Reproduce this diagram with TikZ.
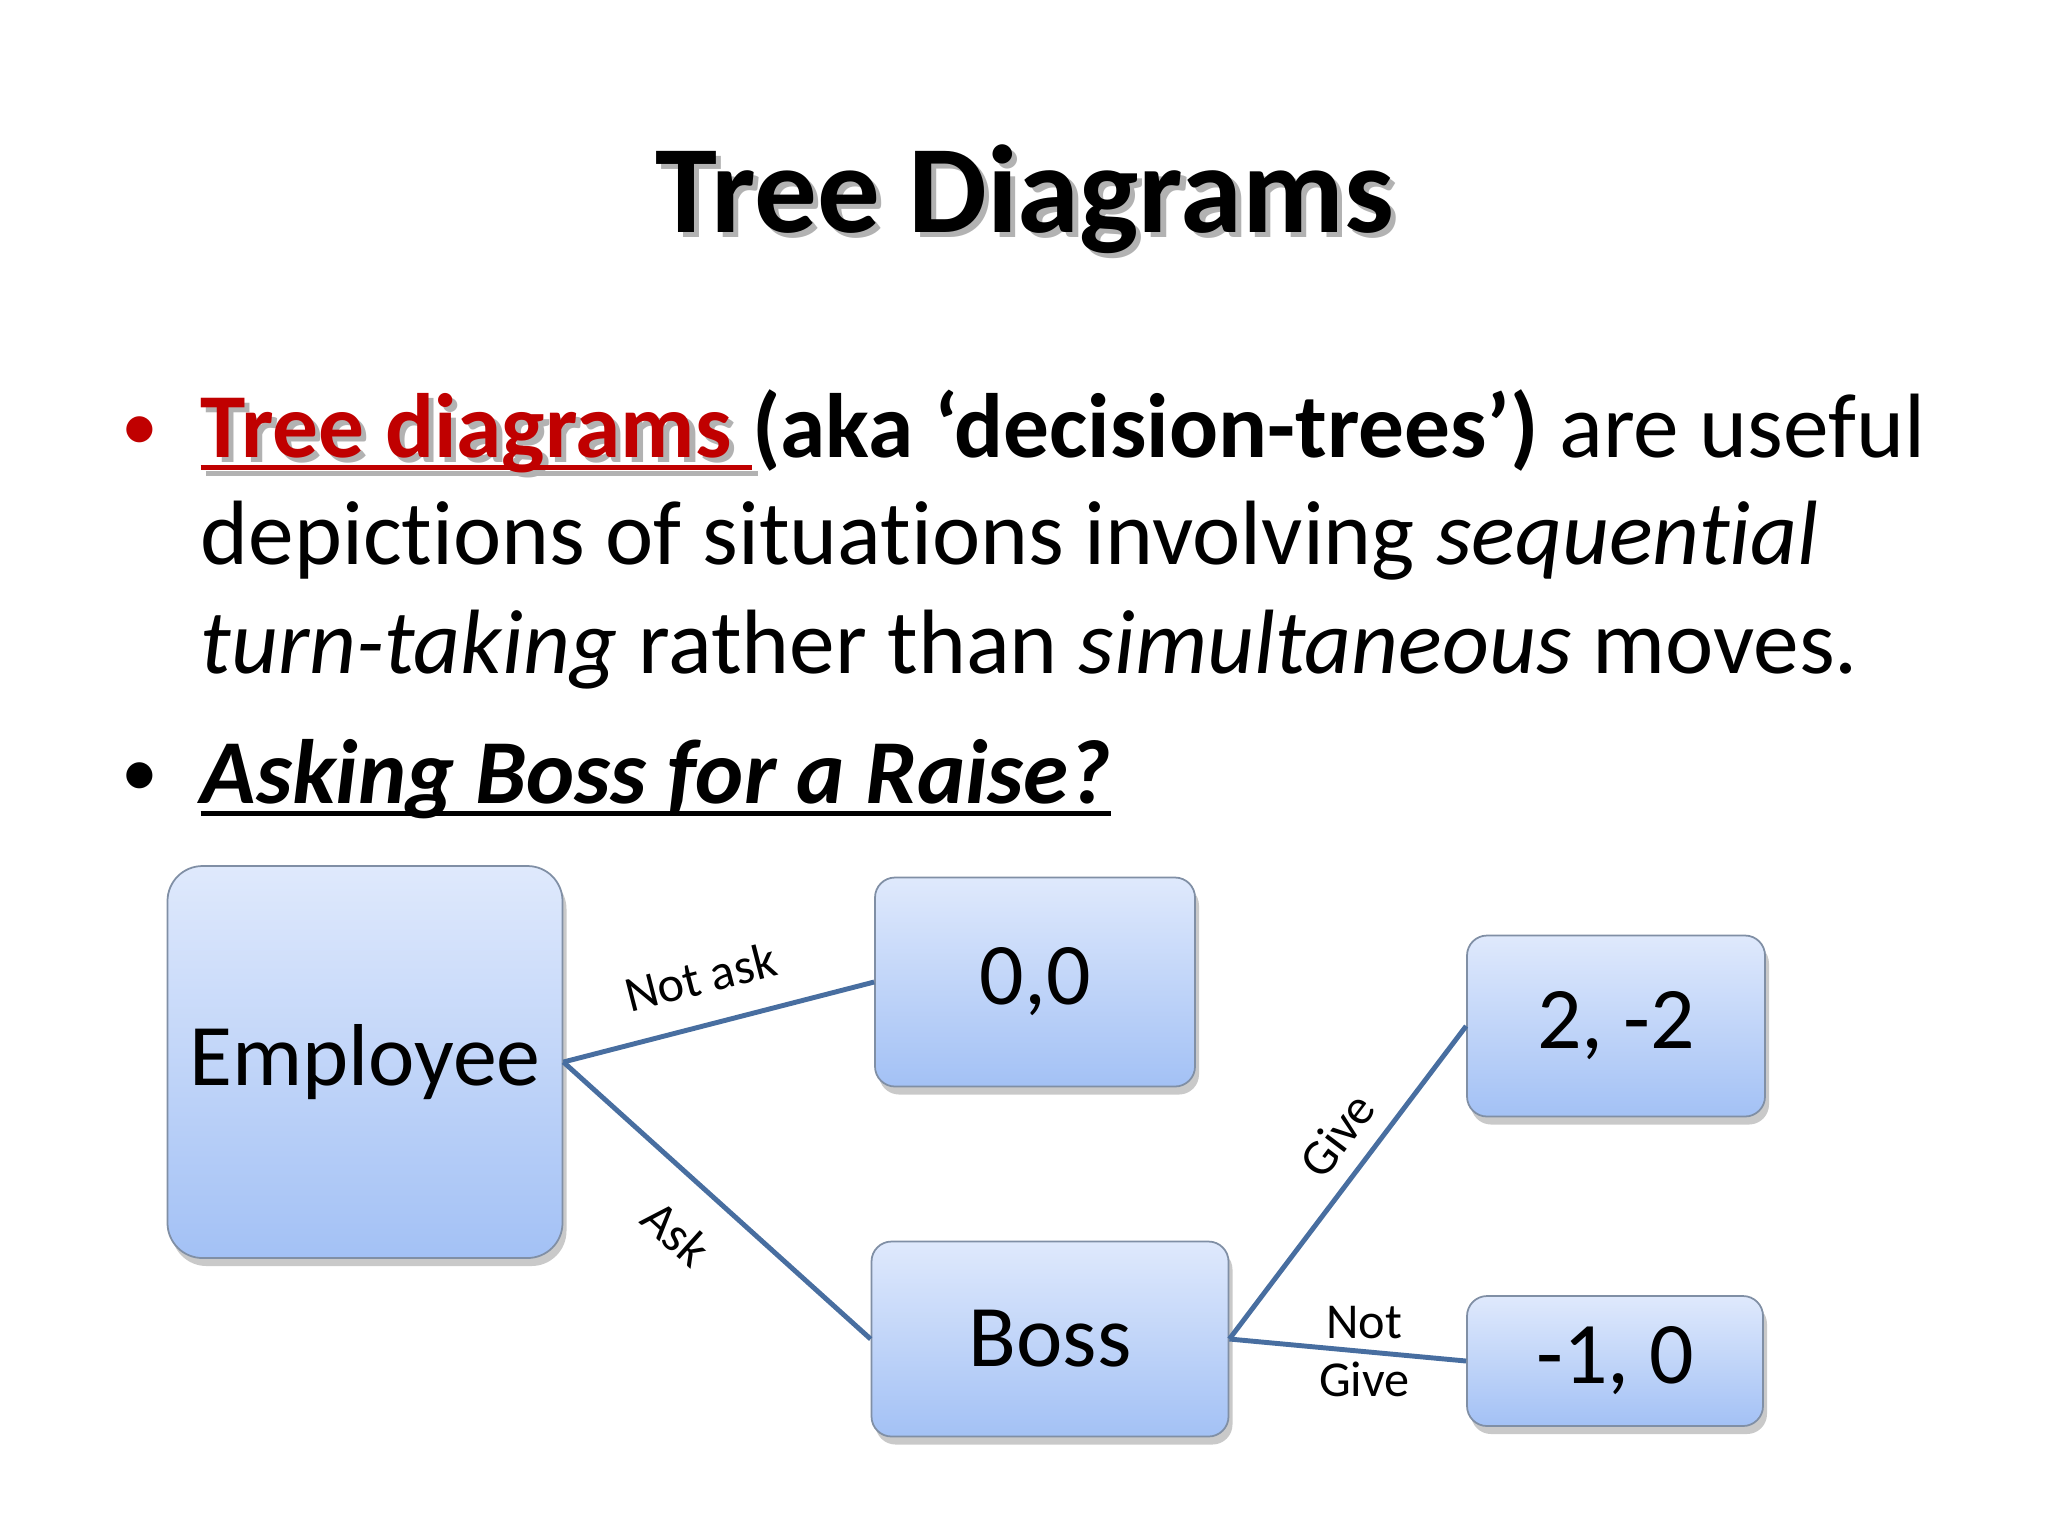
\documentclass[tikz,border=0pt]{standalone}
\usepackage{fontspec}
\setmainfont{Carlito}[Ligatures=NoCommon]
\usetikzlibrary{shapes,positioning,shadows,calc}

\definecolor{boxtop}{RGB}{223,233,252}
\definecolor{boxbot}{RGB}{163,193,245}
\definecolor{boxedge}{RGB}{128,143,165}
\definecolor{branch}{RGB}{72,110,160}
\definecolor{tdred}{RGB}{192,0,0}

% grey copy of the text, a little down and right
\newcommand\shadetext[1]{\rlap{\hspace{1.5pt}\raisebox{-1.5pt}{\color{black!30}#1}}#1}
% thick underline in the current colour
\newcommand\ulbar[1]{\setbox0\hbox{#1}\rlap{\rule[-3.8pt]{\wd0}{1.4pt}}\box0}

\tikzset{
  payoff/.style={draw=boxedge, line width=0.5pt, rounded corners=2mm,
    top color=boxtop, bottom color=boxbot,
    drop shadow={shadow xshift=0.4mm, shadow yshift=-0.8mm, opacity=0.3, fill=black!70},
    font=\fontsize{25}{29}\selectfont, inner sep=0pt},
  branch line/.style={draw=branch, line width=1.4pt},
  move/.style={font=\fontsize{14.3}{16.7}\selectfont, inner sep=2pt},
  bodytext/.style={anchor=base west, inner sep=0pt, font=\fontsize{26}{30}\selectfont},
  bulletdot/.style={anchor=base, inner sep=0pt, font=\fontsize{21}{30}\selectfont}
}

\begin{document}
\begin{tikzpicture}[x=0.1mm, y=-0.1mm]
    \useasboundingbox (0,0) rectangle (2048,1536);

    % title
    \node (title) at (1025,232) [anchor=base, inner sep=0pt, font=\fontsize{35.6}{42}\selectfont\bfseries] {\shadetext{Tree Diagrams}};

    % bullets
    \node (dota) at (140,450) [bulletdot, text=tdred] {•};
    \node (linea) at (200,457) [bodytext] {{\color{tdred}\shadetext{\ulbar{\textbf{Tree diagrams}\ }}}\textbf{(aka ‘decision-trees’)} are useful};
    \node (lineb) at (200,564) [bodytext] {depictions of situations involving \textit{sequential}};
    \node (linec) at (200,673) [bodytext] {\textit{turn-taking} rather than \textit{simultaneous} moves.};
    \node (dotb) at (140,796) [bulletdot] {•};
    \node (lined) at (200,803) [bodytext] {\ulbar{\textbf{\textit{Asking Boss for a Raise?}}}};

    % tree
    \node (employee) at (365,1062) [payoff, rounded corners=3.5mm, minimum width=39.5mm, minimum height=39.2mm] {Employee};
    \node (zero) at (1035,982) [payoff, minimum width=32mm, minimum height=20.9mm] {0,0};
    \node (boss) at (1050,1339) [payoff, minimum width=35.7mm, minimum height=19.5mm] {Boss};
    \node (win) at (1616,1026) [payoff, minimum width=29.8mm, minimum height=18.1mm] {2, -2};
    \node (lose) at (1615,1361) [payoff, minimum width=29.6mm, minimum height=13mm] {-1, 0};

    \draw[branch line] (employee.east) -- (zero.west) node[move, sloped, above=6pt, pos=0.48] {Not ask};
    \draw[branch line] (employee.east) -- (boss.west) node[move, sloped, below=7pt, pos=0.48] {Ask};
    \draw[branch line] (boss.east) -- (win.west) node[move, sloped, above=3pt, pos=0.58] {Give};
    \draw[branch line] (boss.east) -- (lose.west) node[move, align=center, pos=0.57] {Not\\Give};
\end{tikzpicture}
\end{document}
